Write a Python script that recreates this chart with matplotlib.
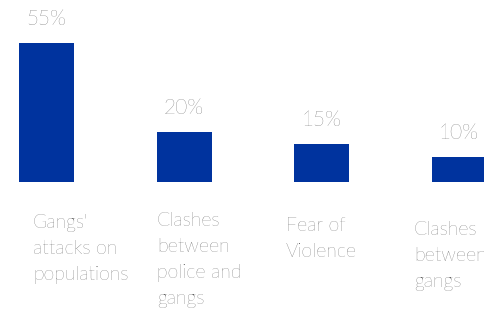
import matplotlib
matplotlib.use("Agg")
import matplotlib.pyplot as plt
import matplotlib.transforms as mtransforms

# data
categories = ["Gangs'\nattacks on\npopulations",
              "Clashes\nbetween\npolice and\ngangs",
              "Fear of\nViolence",
              "Clashes\nbetween\ngangs"]
values = [55, 20, 15, 10]
value_labels = ["55%", "20%", "15%", "10%"]

bar_color = "#00339e"
text_color = "#3c3c3c"
# placement of the category text (left edge rel. to bar centre, first baseline in px from top)
label_dx = [-0.098, -0.196, -0.258, -0.327]
label_base = [230, 229, 232, 237]
line_px = 25

plt.rcParams['font.family'] = ['Lato', 'DejaVu Sans']

fig = plt.figure(figsize=(4.84, 3.12), dpi=100)
ax = fig.add_axes([0, 130 / 312, 1, 182 / 312])

x = list(range(len(values)))
ax.bar(x, values, width=0.4, color=bar_color)
ax.set_xlim(-46.5 / 137.5, (484 - 46.5) / 137.5)
ax.set_ylim(0, 182 / 2.52)
ax.axis("off")

for xi, v, lab in zip(x, values, value_labels):
    ax.annotate(lab, (xi, v), xytext=(0, 18), textcoords="offset pixels",
                ha="center", va="baseline", fontsize=15, color=text_color,
                fontweight="light")

trans = mtransforms.blended_transform_factory(ax.transData, fig.transFigure)
for xi, cat, dx, yb in zip(x, categories, label_dx, label_base):
    # baseline alignment of multi-line text uses the last line
    last = yb + (cat.count("\n")) * line_px
    ax.text(xi + dx, 1 - last / 312, cat, transform=trans, ha="left", va="baseline",
            fontsize=14, color=text_color, fontweight="light", linespacing=1.57,
            clip_on=False)

fig.savefig("out.png", dpi=100)
